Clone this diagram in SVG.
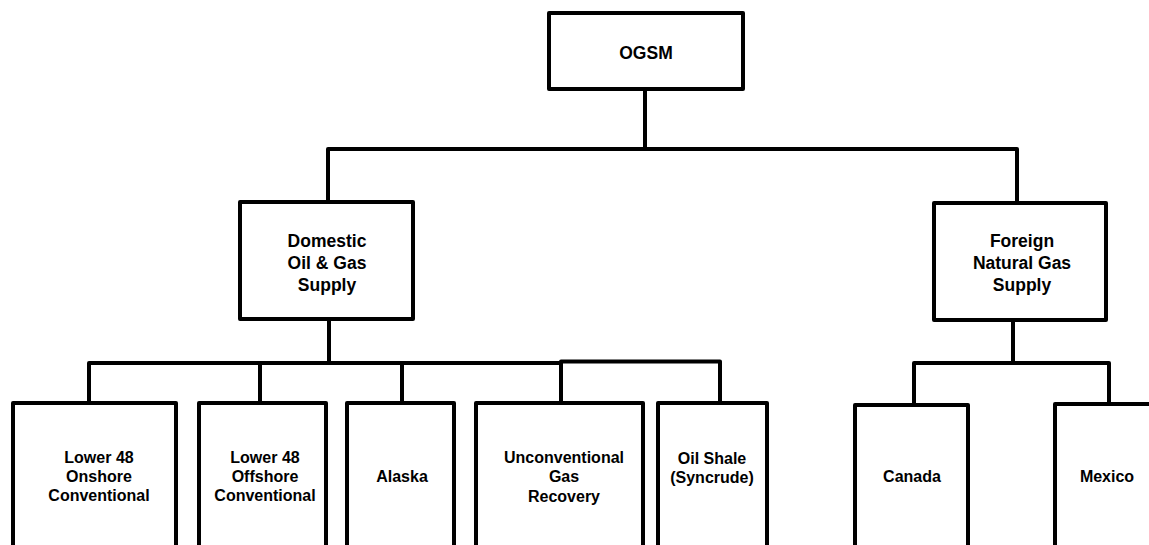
<svg xmlns="http://www.w3.org/2000/svg" width="1149" height="545" viewBox="0 0 1149 545">
<style>
.box{fill:#fff;stroke:#000;stroke-width:4;stroke-linejoin:round}
.ln{fill:none;stroke:#000;stroke-width:4;stroke-linejoin:round}
.t1{font-family:"Liberation Sans",Arial,sans-serif;font-weight:bold;font-size:17.5px;text-anchor:middle;fill:#000}
.t2{font-family:"Liberation Sans",Arial,sans-serif;font-weight:bold;font-size:16px;text-anchor:middle;fill:#000}
</style>
<rect width="1149" height="545" fill="#fff"/>
<g id="connectors">
<path class="ln" d="M645,89V149"/>
<path class="ln" d="M328,203V149H1017V203"/>
<path class="ln" d="M329,319V363"/>
<path class="ln" d="M89,403V363H561"/>
<path class="ln" d="M260,363V403M402,363V403M561,363V403"/>
<path class="ln" d="M561,363V361.5H720V403"/>
<path class="ln" d="M1013,320V363"/>
<path class="ln" d="M914,405V363H1109V405"/>
</g>
<g id="ogsm">
<rect class="box" x="549" y="13" width="194" height="76"/>
<text class="t1" x="646" y="59">OGSM</text>
</g>
<g id="domestic">
<rect class="box" x="240" y="202" width="173" height="117"/>
<text class="t1" x="327" y="246.5">Domestic</text>
<text class="t1" x="327" y="268.5">Oil &amp; Gas</text>
<text class="t1" x="327" y="290.5">Supply</text>
</g>
<g id="foreign">
<rect class="box" x="934" y="203" width="172" height="117"/>
<text class="t1" x="1022" y="246.5">Foreign</text>
<text class="t1" x="1022" y="268.5">Natural Gas</text>
<text class="t1" x="1022" y="290.5">Supply</text>
</g>
<g id="onshore">
<rect class="box" x="13" y="403" width="163" height="170"/>
<text class="t2" x="99" y="463">Lower 48</text>
<text class="t2" x="99" y="482">Onshore</text>
<text class="t2" x="99" y="501">Conventional</text>
</g>
<g id="offshore">
<rect class="box" x="199" y="403" width="127" height="170"/>
<text class="t2" x="265" y="463">Lower 48</text>
<text class="t2" x="265" y="482">Offshore</text>
<text class="t2" x="265" y="501">Conventional</text>
</g>
<g id="alaska">
<rect class="box" x="347" y="403" width="107" height="170"/>
<text class="t2" x="402" y="482">Alaska</text>
</g>
<g id="unconventional">
<rect class="box" x="476" y="403" width="167" height="170"/>
<text class="t2" x="564" y="463">Unconventional</text>
<text class="t2" x="564" y="482">Gas</text>
<text class="t2" x="564" y="502">Recovery</text>
</g>
<g id="oilshale">
<rect class="box" x="658" y="403" width="109" height="170"/>
<text class="t2" x="712" y="464">Oil Shale</text>
<text class="t2" x="712" y="483">(Syncrude)</text>
</g>
<g id="canada">
<rect class="box" x="855" y="405" width="113" height="170"/>
<text class="t2" x="912" y="482">Canada</text>
</g>
<g id="mexico">
<rect class="box" x="1055" y="404" width="120" height="170"/>
<text class="t2" x="1107" y="482">Mexico</text>
</g>
</svg>
